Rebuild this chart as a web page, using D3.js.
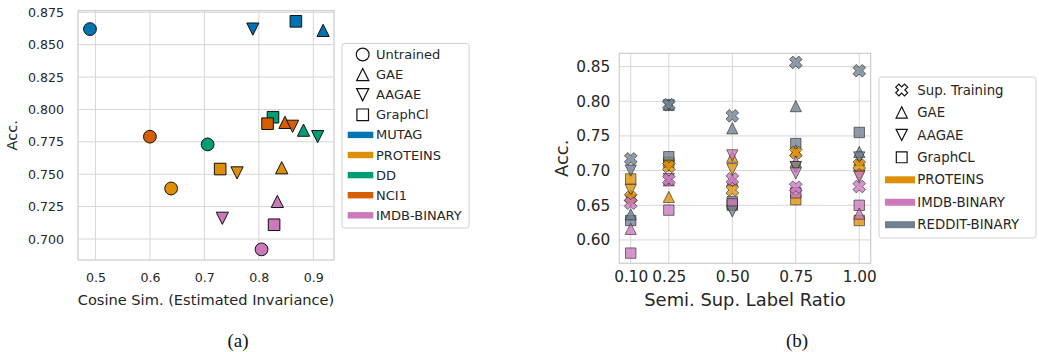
<!DOCTYPE html>
<html>
<head>
<meta charset="utf-8">
<script src="https://cdn.jsdelivr.net/npm/d3@7"></script>
<style>
  body { margin: 0; background: #fff; }
  svg { display: block; font-family: "DejaVu Sans", sans-serif; }
  .grid line { stroke: #d6d6d6; stroke-width: 1; }
  .frame { fill: none; stroke: #cccccc; stroke-width: 1.2; }
  .tick-label { fill: #262626; }
  .legend-box { fill: #fff; stroke: #d0d0d0; stroke-width: 1; }
</style>
</head>
<body>
<svg id="chart" width="1039" height="352"></svg>
<script>
// ---- panel (a): invariance vs accuracy ----
const leftMethods = ["Untrained", "GAE", "AAGAE", "GraphCl"];
const leftShapes = ["circle", "triUp", "triDown", "square"];
const leftDatasets = ["MUTAG", "PROTEINS", "DD", "NCI1", "IMDB-BINARY"];
const leftColors = ["#0173b2", "#de8f05", "#029e73", "#d55e00", "#cc78bc"];
// cosine similarity per dataset, order = leftMethods
const simMUTAG = [0.490, 0.918, 0.789, 0.868];
const simPROTEINS = [0.639, 0.842, 0.760, 0.729];
const simDD = [0.706, 0.882, 0.908, 0.826];
const simNCI1 = [0.600, 0.848, 0.862, 0.816];
const simIMDB = [0.805, 0.834, 0.733, 0.828];
// accuracy per dataset, order = leftMethods
const accMUTAG = [0.862, 0.861, 0.862, 0.868];
const accPROTEINS = [0.739, 0.755, 0.751, 0.754];
const accDD = [0.773, 0.784, 0.779, 0.794];
const accNCI1 = [0.779, 0.790, 0.787, 0.789];
const accIMDB = [0.692, 0.729, 0.716, 0.711];
const leftXTicks = [0.5, 0.6, 0.7, 0.8, 0.9];
const leftYTicks = [0.700, 0.725, 0.750, 0.775, 0.800, 0.825, 0.850, 0.875];

// ---- panel (b): label ratio vs accuracy ----
const ratios = [0.10, 0.25, 0.50, 0.75, 1.00];
const rightMethods = ["Sup. Training", "GAE", "AAGAE", "GraphCL"];
const rightShapes = ["x", "triUp", "triDown", "square"];
const rightDatasets = ["PROTEINS", "IMDB-BINARY", "REDDIT-BINARY"];
const rightColors = ["#de8f05", "#cc78bc", "#708090"];
const proteinsSup = [0.661, 0.706, 0.672, 0.726, 0.708];
const proteinsGAE = [0.664, 0.662, 0.720, 0.729, 0.715];
const proteinsAAGAE = [0.672, 0.707, 0.702, 0.705, 0.693];
const proteinsGraphCL = [0.688, 0.712, 0.650, 0.658, 0.628];
const imdbSup = [0.653, 0.687, 0.688, 0.676, 0.677];
const imdbGAE = [0.616, 0.686, 0.686, 0.713, 0.638];
const imdbAAGAE = [0.657, 0.688, 0.722, 0.696, 0.691];
const imdbGraphCL = [0.581, 0.643, 0.652, 0.668, 0.650];
const redditSup = [0.717, 0.795, 0.779, 0.856, 0.844];
const redditGAE = [0.637, 0.795, 0.761, 0.793, 0.727];
const redditAAGAE = [0.700, 0.794, 0.641, 0.705, 0.719];
const redditGraphCL = [0.628, 0.720, 0.655, 0.739, 0.755];
const rightYTicks = [0.60, 0.65, 0.70, 0.75, 0.80, 0.85];

function shapePath(kind, r) {
  if (kind === "circle")
    return `M${r},0A${r},${r} 0 1 1 ${-r},0A${r},${r} 0 1 1 ${r},0Z`;
  if (kind === "square") return `M${-r},${-r}H${r}V${r}H${-r}Z`;
  if (kind === "triUp") return `M0,${-r}L${r},${r}L${-r},${r}Z`;
  if (kind === "triDown") return `M0,${r}L${r},${-r}L${-r},${-r}Z`;
  // filled X: a plus turned 45 degrees
  const w = r * 0.36;
  const pts = [[w, -r], [w, -w], [r, -w], [r, w], [w, w], [w, r],
    [-w, r], [-w, w], [-r, w], [-r, -w], [-w, -w], [-w, -r]];
  const c = Math.SQRT1_2;
  return "M" + pts.map(([x, y]) => [(x - y) * c, (x + y) * c].map((v) => v.toFixed(2)).join(",")).join("L") + "Z";
}

const svg = d3.select("#chart");

function drawFrame(g, x, y, xTicks, yTicks, fmtX, fmtY, opts) {
  const [x0, x1] = x.range();
  const [y0, y1] = y.range();
  const grid = g.append("g").attr("class", "grid");
  grid.selectAll(".gx").data(xTicks).join("line")
    .attr("x1", (d) => x(d)).attr("x2", (d) => x(d)).attr("y1", y0).attr("y2", y1);
  grid.selectAll(".gy").data(yTicks).join("line")
    .attr("x1", x0).attr("x2", x1).attr("y1", (d) => y(d)).attr("y2", (d) => y(d));
  g.append("rect").attr("class", "frame")
    .attr("x", x0).attr("y", y1).attr("width", x1 - x0).attr("height", y0 - y1);

  const xAxis = g.append("g").attr("transform", `translate(0,${y0})`)
    .call(d3.axisBottom(x).tickValues(xTicks).tickFormat(fmtX).tickSize(0).tickPadding(opts.xPad));
  const yAxis = g.append("g").attr("transform", `translate(${x0},0)`)
    .call(d3.axisLeft(y).tickValues(yTicks).tickFormat(fmtY).tickSize(0).tickPadding(opts.yPad));
  [xAxis, yAxis].forEach((a) => {
    a.attr("font-family", null).attr("font-size", null);
    a.select(".domain").remove();
    a.selectAll("text").attr("class", "tick-label")
      .style("font-size", opts.tickSize + "px");
  });

  g.append("text").attr("x", (x0 + x1) / 2).attr("y", opts.xLabelY)
    .attr("text-anchor", "middle").attr("fill", "#262626")
    .style("font-size", opts.labelSize + "px").text(opts.xLabel);
  g.append("text")
    .attr("transform", `translate(${opts.yLabelX},${(y0 + y1) / 2}) rotate(-90)`)
    .attr("text-anchor", "middle").attr("fill", "#262626")
    .style("font-size", opts.labelSize + "px").text("Acc.");
}

// ---------- panel (a) ----------
const xa = d3.scaleLinear().domain([0.468, 0.938]).range([78, 334]);
const ya = d3.scaleLinear().domain([0.6838, 0.8762]).range([260, 10.7]);
const gA = svg.append("g");
drawFrame(gA, xa, ya, leftXTicks, leftYTicks, d3.format(".1f"), d3.format(".3f"), {
  xPad: 13, yPad: 14, tickSize: 12.6, labelSize: 14.6,
  xLabel: "Cosine Sim. (Estimated Invariance)", xLabelY: 305, yLabelX: 17,
});

const leftSims = [simMUTAG, simPROTEINS, simDD, simNCI1, simIMDB];
const leftAccs = [accMUTAG, accPROTEINS, accDD, accNCI1, accIMDB];
const leftPoints = [];
leftMethods.forEach((m, mi) => {
  leftDatasets.forEach((ds, di) => {
    leftPoints.push({ shape: leftShapes[mi], color: leftColors[di], x: leftSims[di][mi], y: leftAccs[di][mi] });
  });
});
const leftSize = { circle: 6.4, square: 5.8, triUp: 6.1, triDown: 6.1 };
gA.append("g").selectAll("path").data(leftPoints).join("path")
  .attr("transform", (d) => `translate(${xa(d.x)},${ya(d.y)})`)
  .attr("d", (d) => shapePath(d.shape, leftSize[d.shape]))
  .attr("fill", (d) => d.color).attr("stroke", "#111").attr("stroke-width", 1);

// legend (a)
const legA = gA.append("g");
legA.append("rect").attr("class", "legend-box")
  .attr("x", 342).attr("y", 43.5).attr("width", 127).attr("height", 184.5).attr("rx", 2.5);
const legAItems = leftMethods.map((m, i) => ({ label: m, shape: leftShapes[i] }))
  .concat(leftDatasets.map((ds, i) => ({ label: ds, color: leftColors[i] })));
legAItems.forEach((it, i) => {
  const cy = 54.5 + i * 20.1;
  if (it.shape) {
    legA.append("path").attr("transform", `translate(362.7,${cy})`)
      .attr("d", shapePath(it.shape, leftSize[it.shape]))
      .attr("fill", "#fff").attr("stroke", "#111").attr("stroke-width", 1.2);
  } else {
    legA.append("rect").attr("x", 347.7).attr("y", cy - 3.2).attr("width", 25.6).attr("height", 6.4)
      .attr("fill", it.color);
  }
  legA.append("text").attr("x", 376).attr("y", cy).attr("dy", "0.35em")
    .attr("fill", "#262626").style("font-size", "13px").text(it.label);
});

// ---------- panel (b) ----------
const xb = d3.scaleLinear().domain([0.055, 1.045]).range([619.3, 870.7]);
const yb = d3.scaleLinear().domain([0.5663, 0.8692]).range([263.3, 53.3]);
const gB = svg.append("g");
drawFrame(gB, xb, yb, ratios, rightYTicks, d3.format(".2f"), d3.format(".2f"), {
  xPad: 8, yPad: 9, tickSize: 15.3, labelSize: 17.9,
  xLabel: "Semi. Sup. Label Ratio", xLabelY: 306, yLabelX: 568,
});

const rightValues = [
  [proteinsSup, proteinsGAE, proteinsAAGAE, proteinsGraphCL],
  [imdbSup, imdbGAE, imdbAAGAE, imdbGraphCL],
  [redditSup, redditGAE, redditAAGAE, redditGraphCL],
];
const drawMethodOrder = [3, 1, 2, 0];
const drawDatasetOrder = [0, 2, 1];
const rightPoints = [];
drawMethodOrder.forEach((mi) => {
  drawDatasetOrder.forEach((di) => {
    ratios.forEach((r, ri) => {
      rightPoints.push({ shape: rightShapes[mi], color: rightColors[di], x: r, y: rightValues[di][mi][ri] });
    });
  });
});
const rightSize = { x: 6.6, square: 5.2, triUp: 5.6, triDown: 5.6 };
gB.append("g").selectAll("path").data(rightPoints).join("path")
  .attr("transform", (d) => `translate(${xb(d.x)},${yb(d.y)})`)
  .attr("d", (d) => shapePath(d.shape, rightSize[d.shape]))
  .attr("fill", (d) => d.color).attr("fill-opacity", 0.78)
  .attr("stroke", "#222").attr("stroke-opacity", 0.6).attr("stroke-width", 1);

// legend (b)
const legB = gB.append("g");
legB.append("rect").attr("class", "legend-box")
  .attr("x", 879).attr("y", 77).attr("width", 157).attr("height", 161).attr("rx", 2.5);
const legBItems = rightMethods.map((m, i) => ({ label: m, shape: rightShapes[i] }))
  .concat(rightDatasets.map((ds, i) => ({ label: ds, color: rightColors[i] })));
const legBSize = { x: 6.2, square: 5.4, triUp: 5.6, triDown: 5.6 };
legBItems.forEach((it, i) => {
  const cy = 90 + i * 22.45;
  if (it.shape) {
    legB.append("path").attr("transform", `translate(901.7,${cy})`)
      .attr("d", shapePath(it.shape, legBSize[it.shape]))
      .attr("fill", "#fff").attr("stroke", "#111").attr("stroke-width", 1.2);
  } else {
    legB.append("rect").attr("x", 885).attr("y", cy - 3.5).attr("width", 30).attr("height", 7)
      .attr("fill", it.color);
  }
  legB.append("text").attr("x", 917.3).attr("y", cy).attr("dy", "0.35em")
    .attr("fill", "#262626").style("font-size", "13.3px").text(it.label);
});

// captions
svg.selectAll(".caption").data([["(a)", 238], ["(b)", 797]]).join("text")
  .attr("class", "caption").attr("x", (d) => d[1]).attr("y", 347)
  .attr("text-anchor", "middle").attr("fill", "#111")
  .style("font-family", "'Liberation Serif', serif").style("font-size", "19px")
  .text((d) => d[0]);
</script>
</body>
</html>
